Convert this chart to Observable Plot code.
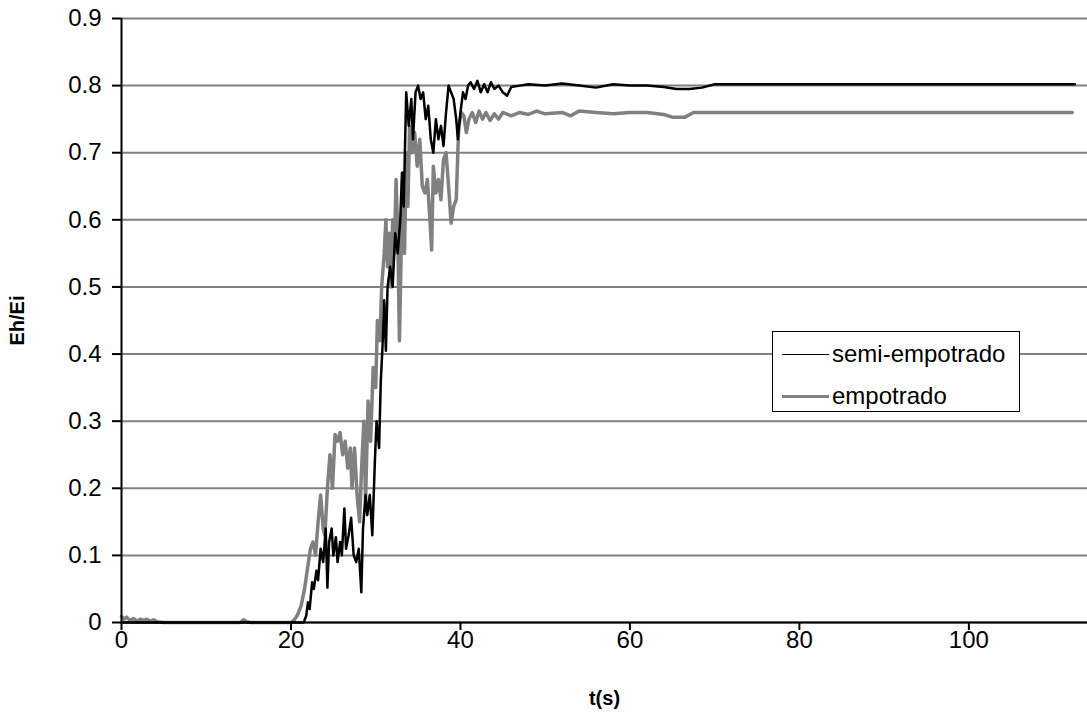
<!DOCTYPE html>
<html>
<head>
<meta charset="utf-8">
<script src="https://cdn.jsdelivr.net/npm/d3@7"></script>
<script src="https://cdn.jsdelivr.net/npm/@observablehq/plot@0.6"></script>
<style>
  body { margin: 0; background: #fff; }
  #wrap { position: relative; width: 1087px; height: 726px; font-family: "Liberation Sans", Arial, sans-serif; }
  #legend { position: absolute; left: 772px; top: 331px; width: 246px; height: 79px; border: 1px solid #000; background: #fff; }
  .row { position: absolute; left: 0; height: 28px; display: flex; align-items: center; font-size: 24px; color: #000; white-space: nowrap; }
  .sw { width: 47px; margin-left: 9px; margin-right: 3px; }
</style>
</head>
<body>
<div id="wrap"></div>
<script>
// ---- data ----
const seriesNames = ["semi-empotrado", "empotrado"];
const xTicks = [0, 20, 40, 60, 80, 100];
const yTicks = [0, 0.1, 0.2, 0.3, 0.4, 0.5, 0.6, 0.7, 0.8, 0.9];

// semi-empotrado (black)
const semiT = [0, 21.5, 21.8, 22.0, 22.2, 22.5, 22.7, 23.0, 23.2, 23.5, 23.8, 24.1, 24.3, 24.5, 24.8, 25.0, 25.3, 25.5, 25.8, 26.0, 26.3, 26.5, 26.8, 27.1, 27.4, 27.7, 28.0, 28.3, 28.5, 28.8, 29.0, 29.3, 29.6, 29.9, 30.1, 30.4, 30.6, 30.8, 31.0, 31.2, 31.4, 31.7, 32.0, 32.3, 32.6, 32.9, 33.1, 33.3, 33.6, 33.9, 34.2, 34.4, 34.7, 35.0, 35.3, 35.6, 35.9, 36.2, 36.5, 36.8, 37.1, 37.4, 37.7, 38.0, 38.3, 38.6, 38.9, 39.2, 39.5, 39.7, 40.0, 40.3, 40.6, 40.9, 41.2, 41.6, 42.0, 42.4, 42.8, 43.2, 43.6, 44.0, 44.5, 45.0, 45.5, 46.0, 47.0, 48.0, 50.0, 52.0, 54.0, 56.0, 58.0, 60.0, 62.0, 64.0, 65.5, 67.0, 68.5, 70.0, 112.5];
const semiV = [0, 0, 0.01, 0.03, 0.02, 0.06, 0.05, 0.077, 0.063, 0.11, 0.09, 0.14, 0.052, 0.12, 0.14, 0.1, 0.127, 0.09, 0.12, 0.1, 0.17, 0.11, 0.13, 0.156, 0.1, 0.09, 0.11, 0.045, 0.14, 0.19, 0.16, 0.19, 0.13, 0.24, 0.3, 0.26, 0.36, 0.41, 0.48, 0.405, 0.5, 0.53, 0.5, 0.58, 0.55, 0.6, 0.67, 0.62, 0.79, 0.74, 0.78, 0.72, 0.79, 0.8, 0.78, 0.79, 0.75, 0.77, 0.72, 0.70, 0.75, 0.72, 0.74, 0.71, 0.76, 0.80, 0.79, 0.78, 0.75, 0.72, 0.76, 0.79, 0.78, 0.80, 0.805, 0.795, 0.807, 0.79, 0.802, 0.79, 0.805, 0.795, 0.8, 0.79, 0.785, 0.798, 0.8, 0.802, 0.8, 0.803, 0.8, 0.797, 0.802, 0.8, 0.8, 0.798, 0.795, 0.795, 0.797, 0.802, 0.802];

// empotrado (grey)
const empT = [0, 0.3, 0.6, 1.0, 1.4, 1.8, 2.2, 2.6, 3.0, 3.4, 3.8, 4.2, 5.0, 14.0, 14.4, 14.8, 15.2, 20.0, 20.4, 20.8, 21.2, 21.6, 22.0, 22.3, 22.6, 22.9, 23.2, 23.5, 23.8, 24.0, 24.3, 24.6, 24.9, 25.2, 25.5, 25.8, 26.1, 26.4, 26.7, 27.0, 27.2, 27.5, 27.8, 28.1, 28.3, 28.6, 28.8, 29.1, 29.4, 29.7, 30.0, 30.2, 30.5, 30.7, 31.0, 31.2, 31.4, 31.6, 31.8, 32.0, 32.2, 32.4, 32.6, 32.8, 33.0, 33.2, 33.4, 33.6, 33.8, 34.0, 34.3, 34.6, 34.9, 35.2, 35.5, 35.8, 36.1, 36.4, 36.6, 36.8, 37.1, 37.4, 37.7, 38.0, 38.3, 38.6, 38.9, 39.2, 39.5, 39.8, 40.1, 40.4, 40.7, 41.0, 41.4, 41.8, 42.2, 42.6, 43.0, 43.5, 44.0, 44.5, 45.0, 46.0, 47.0, 48.0, 49.0, 50.0, 52.0, 53.0, 54.0, 56.0, 58.0, 60.0, 62.0, 64.0, 65.0, 66.5, 67.5, 70.0, 112.2];
const empV = [0.009, 0.005, 0.008, 0.003, 0.006, 0.002, 0.005, 0.003, 0.005, 0.002, 0.004, 0.001, 0, 0, 0.004, 0.001, 0, 0, 0.004, 0.012, 0.025, 0.05, 0.085, 0.11, 0.12, 0.1, 0.15, 0.19, 0.14, 0.13, 0.2, 0.25, 0.2, 0.28, 0.27, 0.283, 0.25, 0.27, 0.23, 0.26, 0.2, 0.26, 0.19, 0.15, 0.22, 0.3, 0.18, 0.33, 0.27, 0.38, 0.35, 0.45, 0.42, 0.5, 0.55, 0.6, 0.53, 0.58, 0.5, 0.6, 0.55, 0.66, 0.58, 0.42, 0.55, 0.67, 0.55, 0.7, 0.62, 0.74, 0.7, 0.73, 0.68, 0.72, 0.65, 0.64, 0.66, 0.6, 0.555, 0.68, 0.64, 0.66, 0.63, 0.69, 0.7, 0.65, 0.595, 0.62, 0.63, 0.74, 0.76, 0.755, 0.73, 0.75, 0.76, 0.745, 0.762, 0.75, 0.76, 0.748, 0.758, 0.75, 0.76, 0.755, 0.76, 0.757, 0.762, 0.758, 0.76, 0.755, 0.762, 0.76, 0.758, 0.76, 0.76, 0.757, 0.753, 0.753, 0.76, 0.76, 0.76];

const semi = semiT.map((t, i) => ({t, v: semiV[i]}));
const emp = empT.map((t, i) => ({t, v: empV[i]}));

const chart = Plot.plot({
  width: 1087,
  height: 726,
  marginLeft: 121,
  marginRight: 0,
  marginTop: 18,
  marginBottom: 104,
  style: {fontFamily: "'Liberation Sans', Arial, sans-serif", fontSize: "24px", background: "#fff", color: "#000"},
  x: {domain: [0, 114]},
  y: {domain: [0, 0.9]},
  marks: [
    Plot.gridY(yTicks, {stroke: "#808080", strokeOpacity: 1, strokeWidth: 2}),
    Plot.axisY(yTicks, {tickSize: 9, tickPadding: 11, fontSize: 24, tickFormat: d => d === 0 ? "0" : d.toFixed(1), label: null, stroke: "#000", strokeWidth: 2}),
    Plot.axisX(xTicks, {tickSize: 8, tickPadding: 0, fontSize: 24, tickFormat: d => String(d), label: null, stroke: "#000", strokeWidth: 2}),
    Plot.line(emp, {x: "t", y: "v", stroke: "#808080", strokeWidth: 3.5}),
    Plot.line(semi, {x: "t", y: "v", stroke: "#000", strokeWidth: 2.5}),
    Plot.ruleX([0], {stroke: "#000", strokeWidth: 2}),
    Plot.ruleY([0], {stroke: "#000", strokeWidth: 2}),
    Plot.text(["t(s)"], {frameAnchor: "bottom", dy: 82, fontWeight: "bold", fontSize: 20}),
    Plot.text(["Eh/Ei"], {frameAnchor: "left", dx: -104, rotate: -90, textAnchor: "middle", fontWeight: "bold", fontSize: 20})
  ]
});

const wrap = document.getElementById("wrap");
wrap.appendChild(chart);
const legend = document.createElement("div");
legend.id = "legend";
legend.innerHTML = `
  <div class="row" style="top:8px"><div class="sw" style="border-top:1.5px solid #000"></div>${seriesNames[0]}</div>
  <div class="row" style="top:50px"><div class="sw" style="border-top:3.5px solid #808080"></div>${seriesNames[1]}</div>`;
wrap.appendChild(legend);
</script>
</body>
</html>
